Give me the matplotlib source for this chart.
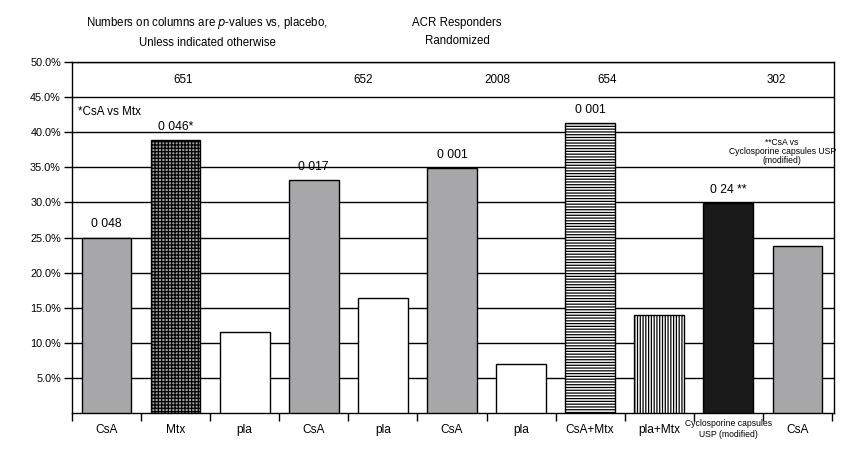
import matplotlib
matplotlib.use("Agg")
import matplotlib.pyplot as plt
import numpy as np

plt.rcParams['font.family'] = ['Liberation Sans Narrow', 'Liberation Sans', 'DejaVu Sans']
plt.rcParams['hatch.linewidth'] = 0.9

categories = ["CsA", "Mtx", "pla", "CsA", "pla", "CsA", "pla", "CsA+Mtx", "pla+Mtx",
              "Cyclosporine capsules\nUSP (modified)", "CsA"]
values = [25.0, 38.9, 11.6, 33.2, 16.4, 34.9, 7.0, 41.3, 14.0, 29.9, 23.8]
pvalue_labels = ["0 048", "0 046*", "", "0 017", "", "0 001", "", "0 001", "", "0 24 **", ""]
studies = ["651", "652", "2008", "654", "302"]
study_pos = [1.11, 3.72, 5.66, 7.25, 9.69]
yticks = [5, 10, 15, 20, 25, 30, 35, 40, 45, 50]

faces = ["#a7a7a9", "#a0a0a0", "white", "#a7a7a9", "white", "#a7a7a9", "white",
         "white", "white", "#1a1a1a", "#a7a7a9"]
hatches = [None, "+++++", None, None, None, None, None, "------", "||||||", None, None]

fig = plt.figure(figsize=(8.62, 4.53), dpi=100)
ax = fig.add_axes([72/862, 1-413/453, (834-72)/862, 351/453])

x = np.arange(len(categories))
for i in range(len(categories)):
    ax.bar(x[i], values[i], width=0.72, color=faces[i], edgecolor="black",
           linewidth=1.0, hatch=hatches[i], zorder=3)

for yv in yticks:
    ax.axhline(yv, color="black", linewidth=1.0, zorder=1)

ax.set_xlim(-0.5, 10.53)
ax.set_ylim(0, 50)
ax.set_yticks(yticks)
ax.set_yticklabels([f"{v:.1f}%" for v in yticks], fontsize=7.8)
ax.tick_params(axis='y', direction='out', length=6, width=1, pad=2)

ax.set_xticks(x)
ax.set_xticklabels([])
ax.tick_params(axis='x', which='major', length=0)
ax.set_xticks(np.arange(-0.5, 11.0, 1.0), minor=True)
ax.tick_params(axis='x', which='minor', direction='out', length=6, width=1)
for i, lab in enumerate(categories):
    if "\n" in lab:
        ax.text(x[i], -0.8, lab, ha='center', va='top', fontsize=6.2, linespacing=1.3)
    else:
        ax.text(x[i], -1.5, lab, ha='center', va='top', fontsize=8.6)

for s in ax.spines.values():
    s.set_linewidth(1.0)
    s.set_color("black")

for i, lab in enumerate(pvalue_labels):
    if lab:
        ax.text(x[i], values[i] + 1.0, lab, ha='center', va='bottom', fontsize=8.8)

for pos, s in zip(study_pos, studies):
    ax.text(pos, 47.5, s, ha='center', va='center', fontsize=8.4)

ax.text(-0.42, 42.9, "*CsA vs Mtx", ha='left', va='center', fontsize=8.4)
ax.text(9.78, 37.3, "**CsA vs\nCyclosporine capsules USP\n(modified)", ha='center', va='center',
        fontsize=6.2, linespacing=1.0)

fig.text(207/862, 1-32/453, "Numbers on columns are $\\it{p}$-values vs, placebo,\nUnless indicated otherwise",
         ha='center', va='center', fontsize=8.3, linespacing=1.7)
fig.text(457/862, 1-32/453, "ACR Responders\nRandomized", ha='center', va='center',
         fontsize=8.3, linespacing=1.7)

fig.savefig("out.png", dpi=100)
